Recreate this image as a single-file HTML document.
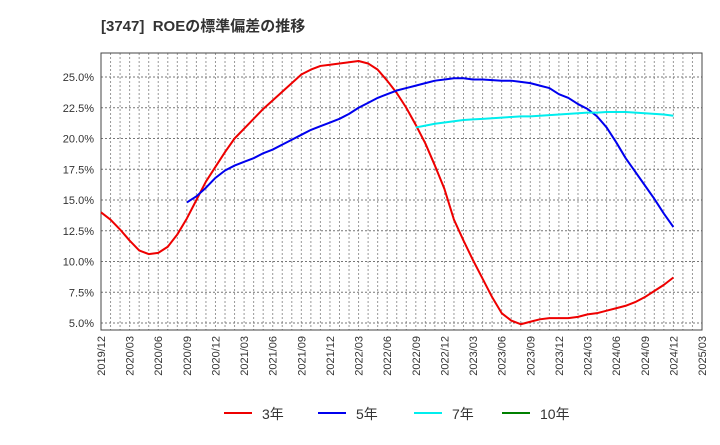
<!DOCTYPE html>
<html><head><meta charset="utf-8"><style>
body{margin:0;background:#fff;font-family:"Liberation Sans","Noto Sans CJK JP",sans-serif}
</style></head><body>
<svg id="c" width="720" height="440" xmlns="http://www.w3.org/2000/svg">
<text x="101" y="31" font-size="15" font-weight="bold" fill="#333" style="white-space:pre" font-family="Liberation Sans, Noto Sans CJK JP, sans-serif">[3747]  ROEの標準偏差の推移</text>
<g id="grid"></g><g id="axes"></g><g id="series"></g><g id="legend"></g>
</svg>
<script>
const xTickLabels=["2019/12","2020/03","2020/06","2020/09","2020/12","2021/03","2021/06","2021/09","2021/12","2022/03","2022/06","2022/09","2022/12","2023/03","2023/06","2023/09","2023/12","2024/03","2024/06","2024/09","2024/12","2025/03"];
const yTickValues=[5,7.5,10,12.5,15,17.5,20,22.5,25];
const red3=[14.0,13.4,12.6,11.7,10.9,10.6,10.7,11.2,12.2,13.5,15.0,16.5,17.7,18.9,20.0,20.8,21.6,22.4,23.1,23.8,24.5,25.2,25.6,25.9,26.0,26.1,26.2,26.3,26.1,25.6,24.7,23.7,22.5,21.1,19.6,17.8,15.9,13.4,11.7,10.1,8.6,7.1,5.8,5.2,4.9,5.1,5.3,5.4,5.4,5.4,5.5,5.7,5.8,6.0,6.2,6.4,6.7,7.1,7.6,8.1,8.7];
const blue5=[14.8,15.3,16.0,16.8,17.4,17.8,18.1,18.4,18.8,19.1,19.5,19.9,20.3,20.7,21.0,21.3,21.6,22.0,22.5,22.9,23.3,23.6,23.9,24.1,24.3,24.5,24.7,24.8,24.9,24.9,24.8,24.8,24.75,24.7,24.7,24.6,24.5,24.3,24.1,23.6,23.3,22.8,22.4,21.8,20.9,19.7,18.4,17.3,16.2,15.1,13.9,12.8];
const blue5Start=9;
const cyan7=[20.9,21.05,21.2,21.3,21.4,21.5,21.55,21.6,21.65,21.7,21.75,21.8,21.8,21.85,21.9,21.95,22.0,22.05,22.1,22.1,22.15,22.15,22.15,22.1,22.05,22.0,21.95,21.85];
const cyan7Start=33;
const green10=[];
const NS="http://www.w3.org/2000/svg";
const L=101,R=702,T=53,B=330;
const months=63;
function xs(i){return L+(R-L)*i/months;}
function ys(v){return 323-(v-5)*(246/20);}
function mk(tag,attrs,parent){const e=document.createElementNS(NS,tag);for(const k in attrs)e.setAttribute(k,attrs[k]);parent.appendChild(e);return e;}
const grid=document.getElementById('grid'),axes=document.getElementById('axes'),ser=document.getElementById('series'),leg=document.getElementById('legend');
for(let i=1;i<months;i++){const l=mk('line',{x1:xs(i),x2:xs(i),y1:T,y2:B,stroke:'#999','stroke-dasharray':'2,2','stroke-width':1},grid);

}
yTickValues.forEach(v=>{const l=mk('line',{x1:L,x2:R,y1:ys(v),y2:ys(v),stroke:'#777','stroke-dasharray':'2,2','stroke-width':1},grid);


const t=mk('text',{x:94,y:ys(v)+4,'text-anchor':'end','font-size':11,fill:'#333'},axes);t.textContent=v.toFixed(1)+'%';

});
const frame=mk('rect',{x:L,y:T,width:R-L,height:B-T,fill:'none',stroke:'#444','stroke-width':1},axes);


xTickLabels.forEach((s,k)=>{const x=xs(k*3);const t=mk('text',{transform:`translate(${x+4},${B+6}) rotate(-90)`,'text-anchor':'end','font-size':11,fill:'#333'},axes);t.textContent=s;

});
function line(data,start,color,name){if(!data.length)return;const p=mk('polyline',{points:data.map((v,i)=>xs(start+i)+','+ys(v)).join(' '),fill:'none',stroke:color,'stroke-width':2,'stroke-linejoin':'round'},ser);

}
line(red3,0,'#ee0000','line-3y');
line(blue5,blue5Start,'#0000ee','line-5y');
line(cyan7,cyan7Start,'#00eeee','line-7y');
line(green10,0,'#008000','line-10y');
[["3年","#ee0000",224],["5年","#0000ee",318],["7年","#00eeee",414],["10年","#008000",502]].forEach(([lab,c,x])=>{
const g=mk('g',{},leg);


mk('line',{x1:x,x2:x+28,y1:413,y2:413,stroke:c,'stroke-width':2},g);
const t=mk('text',{x:x+38,y:419,'font-size':14,fill:'#333'},g);t.textContent=lab;});
</script>
</body></html>
